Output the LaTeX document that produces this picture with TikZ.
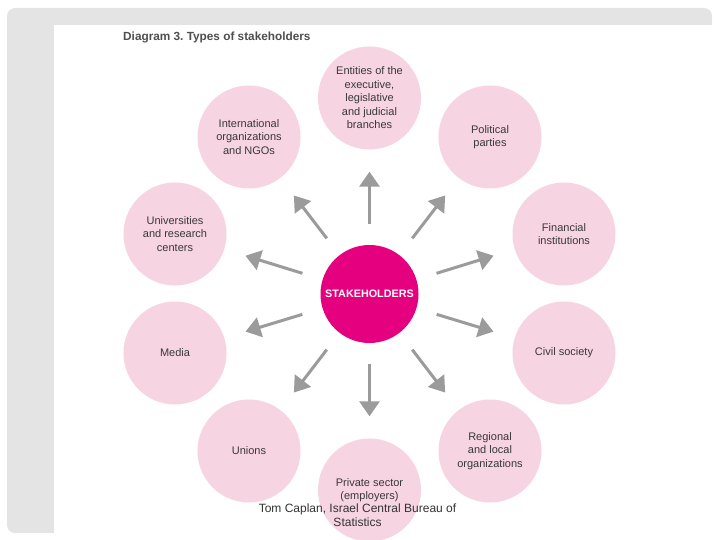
\documentclass[tikz,border=0pt]{standalone}
\usepackage{fontspec}
\setmainfont{Liberation Sans}
\usetikzlibrary{arrows.meta}
\definecolor{framegray}{HTML}{E4E4E4}
\definecolor{petal}{HTML}{F7D4E1}
\definecolor{hubpink}{HTML}{E4007F}
\definecolor{spokegray}{HTML}{9B9B9B}
\definecolor{labelgray}{HTML}{383838}
\definecolor{titlegray}{HTML}{4F4F4F}
\frenchspacing

\begin{document}
\begin{tikzpicture}[x=1pt, y=-1pt,
    group/.style={circle, fill=petal, minimum size=103pt, inner sep=1pt,
                  align=center, text=labelgray,
                  font=\fontsize{11}{13.5}\selectfont},
    hub/.style={circle, fill=hubpink, minimum size=98pt, inner sep=1pt,
                text=white, font=\fontsize{10.8}{13}\selectfont\bfseries},
    spoke/.style={draw=spokegray, line width=3pt,
                  -{Triangle[width=20pt,length=15pt]},
                  shorten <=21pt, shorten >=22pt},
]
\useasboundingbox (0,0) rectangle (720,540);
% slide frame
\fill[framegray, rounded corners=8pt] (7,8) rectangle (712,533);
\fill[white] (54,25) rectangle (720,540);
\node[anchor=west, inner sep=0pt, text=titlegray,
      font=\fontsize{11.8}{14}\selectfont\bfseries] (title) at (123,37)
      {Diagram 3. Types of stakeholders};

% ring of stakeholder groups
\node[group] (exec)  at (369.5,98)  {Entities of the\\executive,\\legislative\\and judicial\\branches};
\node[group] (party) at (490,137)   {Political\\parties};
\node[group] (fin)   at (564,234)   {Financial\\institutions};
\node[group] (civil) at (564,353)   {Civil society};
\node[group] (local) at (490,451)   {Regional\\and local\\organizations};
\node[group] (priv)  at (369.5,490) {Private sector\\(employers)};
\node[group] (union) at (249,451)   {Unions};
\node[group] (media) at (175,353)   {Media};
\node[group] (univ)  at (175,234)   {Universities\\and research\\centers};
\node[group] (ngo)   at (249,137)   {International\\organizations\\and NGOs};

% centre and spokes
\node[hub] (stake) at (369.5,294) {STAKEHOLDERS};
\draw[spoke] (stake) -- (exec);
\draw[spoke] (stake) -- (party);
\draw[spoke] (stake) -- (fin);
\draw[spoke] (stake) -- (civil);
\draw[spoke] (stake) -- (local);
\draw[spoke] (stake) -- (priv);
\draw[spoke] (stake) -- (union);
\draw[spoke] (stake) -- (media);
\draw[spoke] (stake) -- (univ);
\draw[spoke] (stake) -- (ngo);

% source line
\node[align=center, text=black!80, font=\fontsize{12}{14}\selectfont]
      (source) at (357.5,515) {Tom Caplan, Israel Central Bureau of\\Statistics};
\end{tikzpicture}
\end{document}
